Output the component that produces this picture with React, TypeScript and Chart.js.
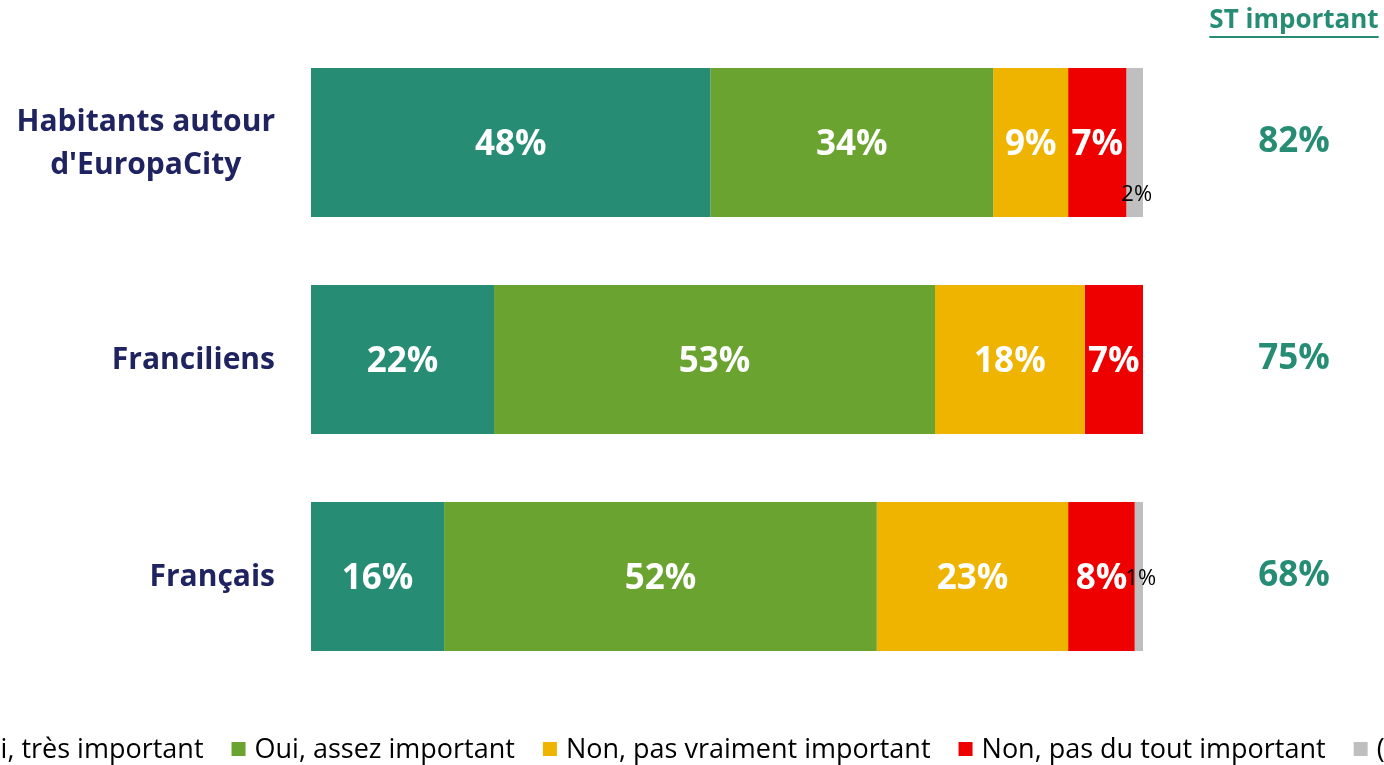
import React, { useEffect, useRef } from 'react';
import { Chart, registerables } from 'chart.js';

Chart.register(...registerables);

const categories: string[][] = [["Habitants autour", "d'EuropaCity"], ["Franciliens"], ["Français"]];
const seriesNames = [
  "Oui, très important",
  "Oui, assez important",
  "Non, pas vraiment important",
  "Non, pas du tout important",
  "(NSP)",
];
const tresImportant = [48, 22, 16];
const assezImportant = [34, 53, 52];
const pasVraiment = [9, 18, 23];
const pasDuTout = [7, 7, 8];
const nsp = [2, 0, 1];
const stImportant = [82, 75, 68];
const stTitle = "ST important";

const seriesColors = ["#268C74", "#6AA330", "#EEB400", "#EE0000", "#BFBFBF"];
const TEAL = "#268C74";
const NAVY = "#1F2360";
const FONT = "'Open Sans', 'Noto Sans', sans-serif";

const overlayPlugin = {
  id: 'overlay',
  afterDatasetsDraw(chart: any) {
    const ctx = chart.ctx as CanvasRenderingContext2D;
    const yScale = chart.scales.y;
    const area = chart.chartArea;
    ctx.save();

    // bar value labels
    chart.data.datasets.forEach((ds: any, di: number) => {
      const meta = chart.getDatasetMeta(di);
      meta.data.forEach((bar: any, i: number) => {
        const v = ds.data[i];
        if (!v) return;
        const cx = (bar.x + bar.base) / 2;
        ctx.textAlign = 'center';
        ctx.textBaseline = 'middle';
        if (v >= 3) {
          ctx.font = `bold 35px ${FONT}`;
          ctx.fillStyle = '#FFFFFF';
          ctx.fillText(`${v}%`, cx, bar.y + 3);
        } else {
          ctx.font = `22px ${FONT}`;
          ctx.fillStyle = '#000000';
          const y = i === 0 ? bar.y + bar.height / 2 - 22 : bar.y + 2;
          ctx.fillText(`${v}%`, cx + 2, y);
        }
      });
    });

    // category labels (block right-aligned, lines centered)
    ctx.font = `bold 30px ${FONT}`;
    ctx.fillStyle = NAVY;
    ctx.textBaseline = 'middle';
    ctx.textAlign = 'center';
    const rightX = area.left - 36;
    categories.forEach((lines, i) => {
      const cy = yScale.getPixelForValue(i);
      const maxW = Math.max(...lines.map((l) => ctx.measureText(l).width));
      const cx = rightX - maxW / 2;
      const lh = 43;
      const y0 = cy - ((lines.length - 1) * lh) / 2 + 1;
      lines.forEach((l, k) => ctx.fillText(l, cx, y0 + k * lh));
    });

    // ST important column
    const colX = 1294;
    ctx.font = `bold 35px ${FONT}`;
    ctx.fillStyle = TEAL;
    stImportant.forEach((v, i) => {
      const cy = yScale.getPixelForValue(i);
      ctx.fillText(`${v}%`, colX, cy);
    });
    ctx.font = `bold 26px ${FONT}`;
    ctx.fillText(stTitle, colX, 21);
    const tw = ctx.measureText(stTitle).width;
    ctx.fillRect(colX - tw / 2, 36, tw, 2);

    // legend (centered, may overflow canvas edges)
    ctx.font = `27px ${FONT}`;
    const box = 14, gapBox = 9, gapItem = 28;
    const widths = seriesNames.map((n) => ctx.measureText(n).width);
    const total = widths.reduce((a, w) => a + box + gapBox + w, 0) + gapItem * (seriesNames.length - 1);
    let x = chart.width / 2 - total / 2;
    const ly = 749;
    ctx.textAlign = 'left';
    seriesNames.forEach((n, i) => {
      ctx.fillStyle = seriesColors[i];
      ctx.fillRect(x, ly - box / 2, box, box);
      x += box + gapBox;
      ctx.fillStyle = '#000000';
      ctx.fillText(n, x, ly + 1);
      x += widths[i] + gapItem;
    });

    ctx.restore();
  },
};

export default function App() {
  const ref = useRef<HTMLCanvasElement | null>(null);
  useEffect(() => {
    document.body.style.margin = '0';
    const seriesData = [tresImportant, assezImportant, pasVraiment, pasDuTout, nsp];
    const chart = new Chart(ref.current as HTMLCanvasElement, {
      type: 'bar',
      data: {
        labels: categories,
        datasets: seriesNames.map((name, i) => ({
          label: name,
          data: seriesData[i],
          backgroundColor: seriesColors[i],
          borderWidth: 0,
          categoryPercentage: 1,
          barPercentage: 149 / 217,
        })),
      },
      options: {
        indexAxis: 'y',
        animation: false,
        responsive: true,
        maintainAspectRatio: false,
        layout: { padding: { left: 311, right: 241, top: 34, bottom: 80 } },
        scales: {
          x: { stacked: true, min: 0, max: 100, display: false },
          y: { stacked: true, display: false },
        },
        plugins: {
          legend: { display: false },
          tooltip: { enabled: false },
        },
      },
      plugins: [overlayPlugin],
    });
    return () => chart.destroy();
  }, []);
  return (
    <div style={{ width: 1384, height: 765, position: 'relative', background: '#fff' }}>
      <canvas ref={ref} />
    </div>
  );
}
